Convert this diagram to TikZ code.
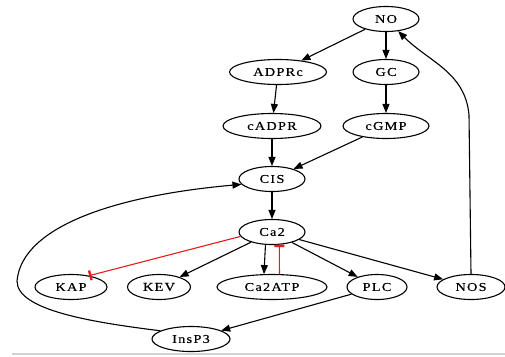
\documentclass[tikz,border=0pt]{standalone}
\usepackage{fontspec}
\setmainfont{Liberation Serif}[FakeStretch=1.2, LetterSpace=10, FakeBold=0.3]
\usetikzlibrary{shapes.geometric,arrows.meta}
\definecolor{inhred}{RGB}{225,30,30}
\begin{document}
\begin{tikzpicture}[x=1pt,y=-1pt,
  nd/.style={ellipse, draw, line width=1.1pt, inner sep=0pt, minimum height=25pt, font=\fontsize{12}{13}\selectfont},
  act/.style={line width=1.1pt, -{Triangle[length=9pt,width=7pt]}},
  inh/.style={line width=1.1pt, draw=inhred, -{Bar[width=10pt,line width=2.4pt]}}]
\useasboundingbox (0,0) rectangle (505,356);
\node[nd, minimum width=66pt] (NO) at (386,19) {NO};
\node[nd, minimum width=97pt] (ADPRc) at (278,72) {ADPRc};
\node[nd, minimum width=66pt] (GC) at (386,72) {GC};
\node[nd, minimum width=98pt] (cADPR) at (272,126) {cADPR};
\node[nd, minimum width=86pt] (cGMP) at (386,126) {cGMP};
\node[nd, minimum width=66pt] (CIS) at (272,179) {CIS};
\node[nd, minimum width=66pt] (Ca2) at (272,232) {Ca2};
\node[nd, minimum width=72pt] (KAP) at (71,287) {KAP};
\node[nd, minimum width=63pt] (KEV) at (159,287) {KEV};
\node[nd, minimum width=110pt] (Ca2ATP) at (272,287) {Ca2ATP};
\node[nd, minimum width=60pt] (PLC) at (377,287) {PLC};
\node[nd, minimum width=68pt] (NOS) at (471,287) {NOS};
\node[nd, minimum width=78pt] (InsP3) at (191,339) {InsP3};
\coordinate (ileft) at (17,281);
\coordinate (nosup) at (469,115);
\draw[act] (NO) -- (ADPRc);
\draw[act] (NO) -- (GC);
\draw[act] (ADPRc) -- (cADPR);
\draw[act] (GC) -- (cGMP);
\draw[act] (cADPR) -- (CIS);
\draw[act] (cGMP) -- (CIS);
\draw[act] (CIS) -- (Ca2);
\draw[inh] (Ca2.188) -- (KAP.32);
\draw[act] (Ca2) -- (KEV);
\draw[act] (Ca2.-117) -- (Ca2ATP.122);
\draw[inh] (Ca2ATP.60) -- (Ca2.-60);
\draw[act] (Ca2) -- (PLC);
\draw[act] (Ca2) -- (NOS);
\draw[act] (PLC) -- (InsP3);
\draw[act] (InsP3.165) .. controls (90,322) and (17,310) .. (ileft) .. controls (22,225) and (120,195) .. (CIS.190);
\draw[act] (NOS.north) -- (nosup) to[out=95,in=-45] (NO.-45);
\draw[gray!35, line width=1.5pt] (12,354) -- (505,354);
\end{tikzpicture}
\end{document}
